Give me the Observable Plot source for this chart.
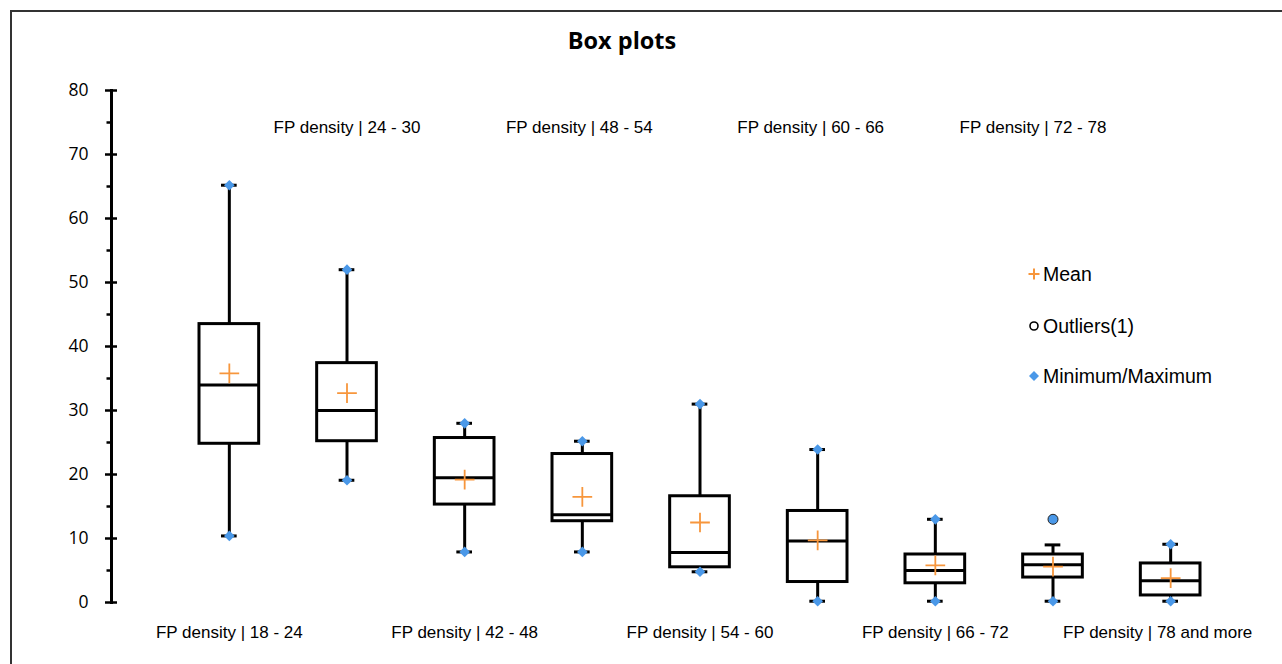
<!DOCTYPE html>
<html>
<head>
<meta charset="utf-8">
<script src="https://cdn.jsdelivr.net/npm/d3@7"></script>
<script src="https://cdn.jsdelivr.net/npm/@observablehq/plot@0.6"></script>
<style>
  html, body { margin: 0; padding: 0; background: #fff; }
  #wrap { position: relative; width: 1282px; height: 664px; overflow: hidden; }
  #border { position: absolute; left: 10px; top: 10px; width: 1320px; height: 720px; border: 2.5px solid #333; box-sizing: border-box; }
  #title { position: absolute; left: 0; width: 1244px; top: 24px; text-align: center; font: bold 23.5px "Open Sans", sans-serif; color: #000; }
  #chart { position: absolute; left: 0; top: 0; }
  .leg { position: absolute; left: 1027px; height: 24px; display: flex; align-items: center; font: 19.5px "Liberation Sans", Arial, sans-serif; color: #000; }
  .leg svg { margin-right: 2px; }
</style>
</head>
<body>
<div id="wrap">
  <div id="border"></div>
  <div id="title">Box plots</div>
  <div id="chart"></div>
  <div class="leg" style="top:262px"><svg width="14" height="14"><path d="M1.5,7H12.5M7,1.5V12.5" stroke="#F7963C" stroke-width="2" fill="none"/></svg>Mean</div>
  <div class="leg" style="top:314px"><svg width="14" height="14"><circle cx="7" cy="7" r="4" stroke="#000" stroke-width="1.6" fill="none"/></svg>Outliers(1)</div>
  <div class="leg" style="top:364px"><svg width="14" height="14"><path d="M7,2L12,7L7,12L2,7Z" fill="#4A98E8"/></svg>Minimum/Maximum</div>
</div>
<script>
const categories = [
  "FP density | 18 - 24", "FP density | 24 - 30", "FP density | 42 - 48",
  "FP density | 48 - 54", "FP density | 54 - 60", "FP density | 60 - 66",
  "FP density | 66 - 72", "FP density | 72 - 78", "FP density | 78 and more"
];
const minimum     = [10.4, 19.1, 7.9, 7.9, 4.8, 0.2, 0.2, 0.2, 0.2];
const q1          = [24.8, 25.2, 15.3, 12.7, 5.5, 3.2, 3.0, 3.9, 1.1];
const median      = [34.0, 30.0, 19.5, 13.7, 7.8, 9.6, 5.0, 5.9, 3.4];
const q3          = [43.5, 37.4, 25.7, 23.2, 16.6, 14.3, 7.5, 7.5, 6.1];
const maximum     = [65.2, 52.0, 28.0, 25.2, 31.0, 23.9, 13.0, 13.0, 9.1];
const upperWhisker= [65.2, 52.0, 28.0, 25.2, 31.0, 23.9, 13.0, 9.0, 9.1];
const mean        = [35.8, 32.7, 19.2, 16.5, 12.5, 9.7, 5.8, 5.6, 3.8];
const outlierCats = ["FP density | 72 - 78"];
const outlierVals = [13.0];
const yMajor = [0, 10, 20, 30, 40, 50, 60, 70, 80];
const yMinor = [5, 15, 25, 35, 45, 55, 65, 75];

const rows = categories.map((c, i) => ({
  cat: c, min: minimum[i], q1: q1[i], med: median[i], q3: q3[i],
  max: maximum[i], hi: upperWhisker[i], mean: mean[i]
}));
const extremes = rows.flatMap(r => [{cat: r.cat, v: r.min}].concat(r.hi === r.max ? [{cat: r.cat, v: r.max}] : []));
const caps = rows.filter(r => r.hi !== r.max);
const outliers = outlierCats.map((c, i) => ({cat: c, v: outlierVals[i]}));

const last = categories.length - 1;
const bottomLabels = categories.filter((d, i) => i % 2 === 0 && i !== last);
const lastLabel = [categories[last]];
const topLabels = categories.filter((d, i) => i % 2 === 1);

const blue = "#4A98E8", orange = "#F7963C";
const boxInset = 29, capInset = 51;
const labelFont = {fontSize: 17, fontFamily: "Liberation Sans", fill: "#000", lineAnchor: "middle"};
const topShift = [0, -3, -7, -20];

const chart = Plot.plot({
  width: 1282, height: 664,
  marginLeft: 111, marginRight: 53, marginTop: 90, marginBottom: 62,
  style: {background: "transparent", overflow: "visible"},
  x: {domain: categories, range: [170, 1229], padding: 0, round: false, axis: null},
  y: {domain: [0, 80], axis: null},
  marks: [
    Plot.frame({anchor: "left", stroke: "#000", strokeWidth: 3}),
    Plot.axisY({ticks: yMajor, tickSize: 12, dx: 6, tickPadding: 17, strokeWidth: 2.5, stroke: "#000",
      fontSize: 17.5, fontFamily: "Open Sans", fill: "#000", tickFormat: d => String(d), label: null}),
    Plot.axisY({ticks: yMinor, tickSize: 4.5, strokeWidth: 2.5, stroke: "#000", tickFormat: () => "", label: null}),
    Plot.ruleX(rows, {x: "cat", y1: "min", y2: "q1", stroke: "#000", strokeWidth: 3}),
    Plot.ruleX(rows, {x: "cat", y1: "q3", y2: "hi", stroke: "#000", strokeWidth: 3}),
    Plot.barY(rows, {x: "cat", y1: "q1", y2: "q3", fill: "#fff", stroke: "#000", strokeWidth: 3, insetLeft: boxInset, insetRight: boxInset}),
    Plot.tickY(rows, {x: "cat", y: "med", stroke: "#000", strokeWidth: 3, insetLeft: boxInset, insetRight: boxInset}),
    Plot.tickY(extremes, {x: "cat", y: "v", stroke: "#000", strokeWidth: 3, insetLeft: capInset, insetRight: capInset}),
    Plot.tickY(caps, {x: "cat", y: "hi", stroke: "#000", strokeWidth: 3, insetLeft: capInset, insetRight: capInset}),
    Plot.dot(extremes, {x: "cat", y: "v", symbol: "diamond2", r: 4.8, fill: blue, stroke: "none"}),
    Plot.dot(outliers, {x: "cat", y: "v", r: 5, fill: blue, stroke: "#222", strokeWidth: 1}),
    Plot.dot(rows, {x: "cat", y: "mean", symbol: "plus", r: 6.4, stroke: orange, strokeWidth: 1.8}),
    Plot.text(bottomLabels, {x: d => d, frameAnchor: "bottom", dy: 30, ...labelFont}),
    Plot.text(lastLabel, {x: d => d, frameAnchor: "bottom", dy: 30, dx: -13, ...labelFont}),
    ...topLabels.map((lab, k) => Plot.text([lab], {x: d => d, frameAnchor: "top", dy: 37, dx: topShift[k], ...labelFont}))
  ]
});
document.getElementById("chart").appendChild(chart);
</script>
</body>
</html>
